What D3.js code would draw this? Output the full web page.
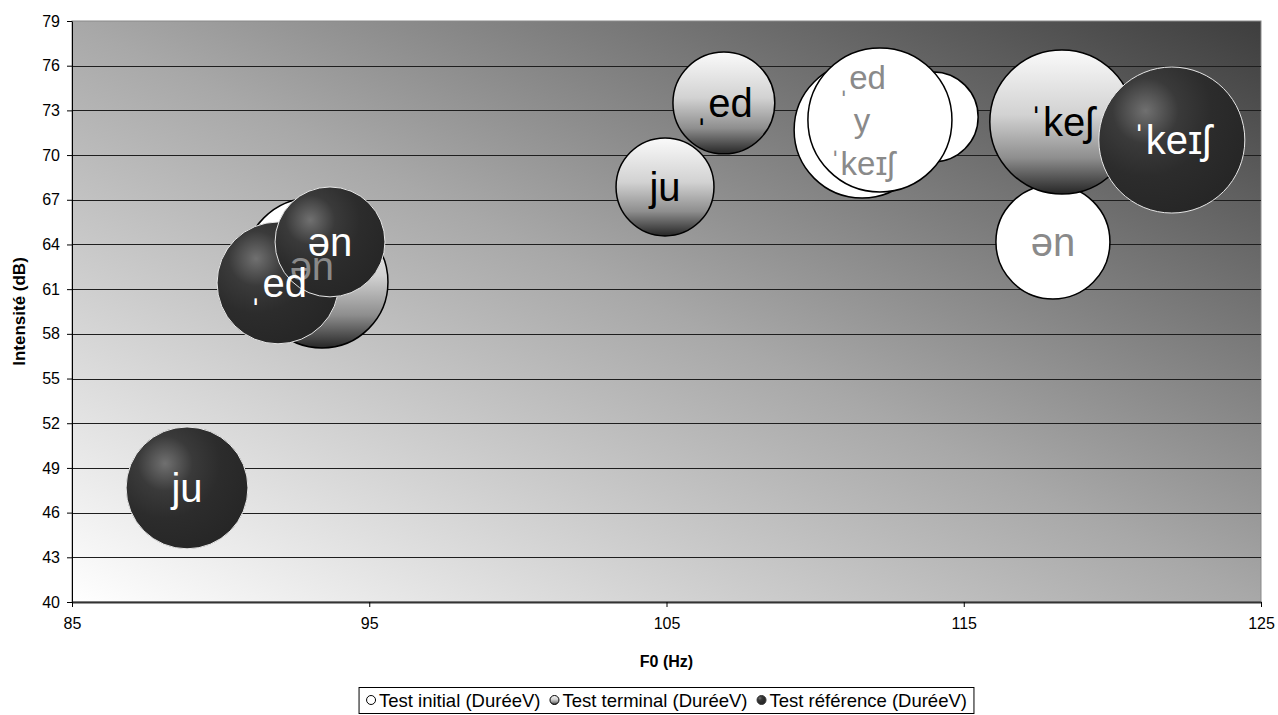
<!DOCTYPE html>
<html><head><meta charset="utf-8">
<script src="https://cdn.jsdelivr.net/npm/d3@7"></script>
<style>
html,body{margin:0;padding:0;background:#fff;}
svg{display:block;font-family:"Liberation Sans",Arial,sans-serif;}
</style></head>
<body>
<svg id="c" width="1278" height="715"></svg>
<script>
// ---- data ----
const xTicks = [85, 95, 105, 115, 125];
const yTicks = [40, 43, 46, 49, 52, 55, 58, 61, 64, 67, 70, 73, 76, 79];
const seriesNames = ["Test initial (DuréeV)", "Test terminal (DuréeV)", "Test référence (DuréeV)"];

const initialF0  = [111.58, 113.97, 112.18, 93.07, 118.0];
const initialDb  = [71.68, 72.56, 72.36, 62.56, 64.17];
const initialDur = [260, 114, 292, 260, 183];
const initialLabels = ["ˌed\ny\nˈkeɪʃ", "", "", "ən", "ən"];

const terminalF0  = [104.95, 106.93, 118.3, 93.41];
const terminalDb  = [67.86, 73.5, 72.22, 61.48];
const terminalDur = [135, 146, 292, 245];
const terminalLabels = ["ju", "ˌed", "ˈkeʃ", ""];

const referenceF0  = [88.87, 91.93, 93.68, 122.0];
const referenceDb  = [47.66, 61.42, 64.17, 71.01];
const referenceDur = [209, 209, 170, 300];
const referenceLabels = ["ju", "ˌed", "ən", "ˈkeɪʃ"];

// ---- layout ----
const svg = d3.select("#c");
const L = 72, R = 1261, T = 21, B = 602;
const x = d3.scaleLinear().domain([85, 125]).range([L, R]);
const y = d3.scaleLinear().domain([40, 79]).range([B, T]);
const rScale = d3.scaleSqrt().domain([0, 300]).range([0, 73]);

const defs = svg.append("defs");
const bg = defs.append("linearGradient").attr("id", "bg")
  .attr("x1", 0).attr("y1", 1).attr("x2", 1).attr("y2", 0);
[[0, "#ffffff"], [0.5, "#a8a8a8"], [1, "#3e3e3e"]]
  .forEach(s => bg.append("stop").attr("offset", s[0]).attr("stop-color", s[1]));

const tg = defs.append("linearGradient").attr("id", "term")
  .attr("x1", 0).attr("y1", 0).attr("x2", 0).attr("y2", 1);
[[0, "#fafafa"], [0.45, "#d2d2d2"], [0.75, "#8e8e8e"], [1, "#262626"]]
  .forEach(s => tg.append("stop").attr("offset", s[0]).attr("stop-color", s[1]));

const rg = defs.append("radialGradient").attr("id", "ref")
  .attr("cx", 0.32).attr("cy", 0.3).attr("r", 0.75).attr("fx", 0.32).attr("fy", 0.3);
[[0, "#707070"], [0.3, "#3a3a3a"], [0.6, "#2c2c2c"], [1, "#262626"]]
  .forEach(s => rg.append("stop").attr("offset", s[0]).attr("stop-color", s[1]));

const clip = defs.append("clipPath").attr("id", "plotclip");
clip.append("rect").attr("x", L).attr("y", T).attr("width", R - L).attr("height", B - T);

// plot background
svg.append("rect").attr("x", L).attr("y", T).attr("width", R - L).attr("height", B - T)
  .attr("fill", "url(#bg)").attr("stroke", "#8a8a8a").attr("stroke-width", 1);

// gridlines
svg.append("g").selectAll("line").data(yTicks.filter(v => v > 40 && v < 79)).join("line")
  .attr("x1", L).attr("x2", R)
  .attr("y1", d => Math.round(y(d)) + 0.5).attr("y2", d => Math.round(y(d)) + 0.5)
  .attr("stroke", "#1e1e1e").attr("stroke-width", 1);

// axes
const yAxis = svg.append("g").attr("transform", `translate(${L},0)`)
  .call(d3.axisLeft(y).tickValues(yTicks).tickSize(5).tickPadding(7).tickSizeOuter(0));
const xAxis = svg.append("g").attr("transform", `translate(0,${B})`)
  .call(d3.axisBottom(x).tickValues(xTicks).tickSize(5).tickPadding(11).tickSizeOuter(0));
[yAxis, xAxis].forEach(a => {
  a.selectAll("text").attr("font-size", 16).attr("fill", "#000")
    .attr("font-family", "'Liberation Sans',Arial,sans-serif");
  a.selectAll("line").attr("stroke", "#000");
  a.select(".domain").attr("stroke", "#000");
});
xAxis.select(".domain").attr("stroke", "#333").attr("stroke-width", 2);

// axis titles
svg.append("text").attr("x", (L + R) / 2).attr("y", 667).attr("text-anchor", "middle")
  .attr("font-size", 16).attr("font-weight", "bold").text("F0 (Hz)");
svg.append("text").attr("transform", `translate(25,${(T + B) / 2}) rotate(-90)`)
  .attr("text-anchor", "middle").attr("font-size", 17).attr("font-weight", "bold")
  .text("Intensité (dB)");

// series
function mk(f0, db, dur, labels) {
  return f0.map((v, i) => ({ f0: v, db: db[i], dur: dur[i], label: labels[i] }));
}
const series = [
  { data: mk(initialF0, initialDb, initialDur, initialLabels), fill: "#ffffff", stroke: "#000", sw: 1.5, lc: "#8a8a8a" },
  { data: mk(terminalF0, terminalDb, terminalDur, terminalLabels), fill: "url(#term)", stroke: "#000", sw: 1.5, lc: "#000" },
  { data: mk(referenceF0, referenceDb, referenceDur, referenceLabels), fill: "url(#ref)", stroke: "#e8e8e8", sw: 1, lc: "#ffffff" }
];

const pg = svg.append("g").attr("clip-path", "url(#plotclip)");
series.forEach(s => {
  pg.append("g").selectAll("circle").data(s.data).join("circle")
    .attr("cx", d => x(d.f0)).attr("cy", d => y(d.db)).attr("r", d => rScale(d.dur))
    .attr("fill", s.fill).attr("stroke", s.stroke).attr("stroke-width", s.sw);
});
series.forEach(s => {
  s.data.filter(d => d.label).forEach(d => {
    const lines = d.label.split("\n");
    const fs = lines.length > 1 ? 33 : 40;
    const lh = 43;
    const t = pg.append("text").attr("text-anchor", "middle").attr("fill", s.lc)
      .attr("font-size", fs);
    lines.forEach((ln, i) => {
      t.append("tspan").attr("x", x(d.f0))
        .attr("y", y(d.db) + (i - (lines.length - 1) / 2) * lh - (lines.length > 1 ? 10 : 0))
        .attr("dy", "0.35em").text(ln);
    });
  });
});

// legend
const legendBox = svg.append("rect");
const lg = svg.append("g");
let cx = 0;
seriesNames.forEach((n, i) => {
  const g = lg.append("g").attr("transform", `translate(${cx},0)`);
  g.append("circle").attr("cx", 5).attr("cy", -1).attr("r", 4.5)
    .attr("fill", i === 0 ? "#fff" : i === 1 ? "url(#term)" : "url(#ref)")
    .attr("stroke", i === 2 ? "#333" : "#000").attr("stroke-width", 1);
  const t = g.append("text").attr("x", 13).attr("y", 0).attr("dy", "0.35em")
    .attr("font-size", 18.5).text(n);
  cx += 13 + t.node().getComputedTextLength() + 9;
});
const lw = cx - 9;
const lx = (L + R) / 2 - lw / 2;
lg.attr("transform", `translate(${lx},701)`);
legendBox.attr("x", lx - 7).attr("y", 687.5).attr("width", lw + 14).attr("height", 26)
  .attr("fill", "#fff").attr("stroke", "#000").attr("stroke-width", 1);
</script>
</body></html>
